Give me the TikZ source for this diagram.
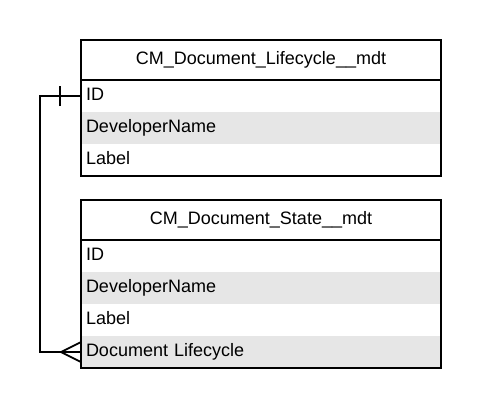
\documentclass[tikz,border=0pt]{standalone}
\usepackage{fontspec}
\setmainfont{Liberation Sans}
\definecolor{rowgray}{HTML}{E6E6E6}
\begin{document}
\begin{tikzpicture}[x=1pt,y=-1pt,line width=1.8pt,
  tfont/.style={font=\fontsize{18}{21}\selectfont,text height=12.5pt,text depth=4.5pt},
  row/.style={tfont,anchor=north west,minimum height=32pt,text width=350pt,inner xsep=5pt,inner ysep=0pt,align=left,outer sep=0pt},
  shaded/.style={row,fill=rowgray},
  hdr/.style={tfont,anchor=north west,minimum height=40pt,minimum width=360pt,inner sep=0pt,outer sep=0pt},
  conn/.style={line width=1.8pt}]
\useasboundingbox (0,0) rectangle (481,408);
% table 1
\node[hdr] (h1) at (81,40) {CM\_Document\_Lifecycle\_\_mdt};
\node[row] (a1) at (81,80) {ID};
\node[shaded] (a2) at (81,112) {DeveloperName};
\node[row] (a3) at (81,144) {Label};
\draw (h1.north west) rectangle (a3.south east);
\draw (h1.south west) -- (h1.south east);
% table 2
\node[hdr] (h2) at (81,200) {CM\_Document\_State\_\_mdt};
\node[row] (b1) at (81,240) {ID};
\node[shaded] (b2) at (81,272) {DeveloperName};
\node[row] (b3) at (81,304) {Label};
\node[shaded] (b4) at (81,336) {Document Lifecycle};
\draw (h2.north west) rectangle (b4.south east);
\draw (h2.south west) -- (h2.south east);
% connector
\coordinate (bend) at (40,0);
\draw[conn] (a1.west) -- (a1.west -| bend) -- (b4.west -| bend) -- (b4.west);
\draw[conn] ([xshift=-21pt,yshift=-10pt]a1.west) -- ([xshift=-21pt,yshift=10pt]a1.west);
\draw[conn] ([yshift=-10pt]b4.west) -- ([xshift=-20pt]b4.west) -- ([yshift=10pt]b4.west);
\end{tikzpicture}
\end{document}
